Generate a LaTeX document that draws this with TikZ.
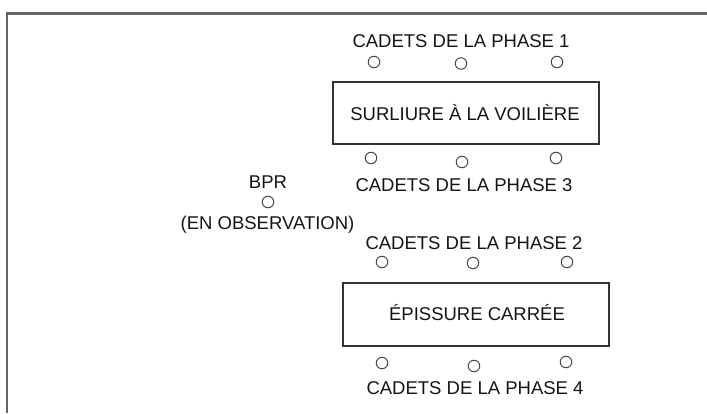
\documentclass[tikz,border=0pt]{standalone}
\usepackage{fontspec}
\setmainfont{Liberation Sans}
\begin{document}
\begin{tikzpicture}[x=1pt,y=-1pt,
  lbl/.style={font=\fontsize{18.5}{21}\selectfont, text=black!92, inner sep=0pt},
  cadet/.style={circle, draw=black!72, line width=1pt, minimum size=11.5pt, inner sep=0pt},
  station/.style={draw=black!80, line width=1.5pt, inner sep=0pt},
  frame/.style={draw=black!60, line width=2.5pt}]
\useasboundingbox (0,0) rectangle (707,413);
% frame
\draw[frame] (7,413) -- (7,13.5) -- (707,13.5);
% station 1
\node[station, minimum width=266pt, minimum height=62pt] (s1) at (466,113) {};
\node[lbl] (s1t) at (465,113) {SURLIURE À LA VOILIÈRE};
\node[lbl] (p1) at (461,41) {CADETS DE LA PHASE 1};
\node[cadet] (c11) at (374,62) {};
\node[cadet] (c12) at (461,63.5) {};
\node[cadet] (c13) at (557,62) {};
\node[cadet] (c31) at (371,158) {};
\node[cadet] (c32) at (462,162) {};
\node[cadet] (c33) at (556,158) {};
\node[lbl] (p3) at (464,185) {CADETS DE LA PHASE 3};
% observer
\node[lbl] (bpr) at (268,182) {BPR};
\node[cadet] (cb) at (268,202) {};
\node[lbl] (obs) at (267.5,225) {(EN OBSERVATION)};
% station 2
\node[lbl] (p2) at (474,243) {CADETS DE LA PHASE 2};
\node[cadet] (c21) at (382,262) {};
\node[cadet] (c22) at (473,263) {};
\node[cadet] (c23) at (567,262) {};
\node[station, minimum width=266pt, minimum height=63pt] (s2) at (476,314.5) {};
\node[lbl] (s2t) at (477,313) {ÉPISSURE CARRÉE};
\node[cadet] (c41) at (382,363) {};
\node[cadet] (c42) at (474,366) {};
\node[cadet] (c43) at (566,362) {};
\node[lbl] (p4) at (475,388) {CADETS DE LA PHASE 4};
\end{tikzpicture}
\end{document}
